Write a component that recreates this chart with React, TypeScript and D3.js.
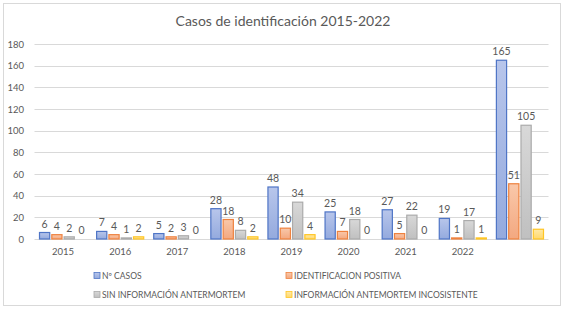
import React from "react";
import * as d3 from "d3";

const categories = ["2015", "2016", "2017", "2018", "2019", "2020", "2021", "2022", ""];
const seriesNames = [
  "Nº CASOS",
  "IDENTIFICACION POSITIVA",
  "SIN INFORMACIÓN ANTERMORTEM",
  "INFORMACIÓN ANTEMORTEM INCOSISTENTE",
];
const casos = [6, 7, 5, 28, 48, 25, 27, 19, 165];
const positiva = [4, 4, 2, 18, 10, 7, 5, 1, 51];
const sinInfo = [2, 1, 3, 8, 34, 18, 22, 17, 105];
const inconsistente = [0, 2, 0, 2, 4, 0, 0, 1, 9];
const yTicks = [0, 20, 40, 60, 80, 100, 120, 140, 160, 180];

const fills = [
  ["#b8c6eb", "#94aade"],
  ["#f9c8aa", "#f3a880"],
  ["#d8d8d8", "#c0c0c0"],
  ["#ffe9a6", "#ffd86c"],
];
const strokes = ["#4f75c6", "#ee823f", "#ababab", "#ffc524"];

const W = 567;
const H = 311;
const font = "Lato, 'Open Sans', sans-serif";
const textColor = "#595959";

export default function App() {
  const series = [casos, positiva, sinInfo, inconsistente];
  const left = 34.5;
  const right = 548.5;
  const top = 44;
  const bottom = 239;

  const x = d3
    .scaleBand<number>()
    .domain(categories.map((_, i) => i))
    .range([left, right])
    .paddingInner(0)
    .paddingOuter(0);
  const inner = d3
    .scaleBand<number>()
    .domain([0, 1, 2, 3])
    .range([5, x.bandwidth() - 5])
    .paddingInner(0.17);
  const y = d3.scaleLinear().domain([0, 180]).range([bottom, top]);

  const legendPos = [
    [94, 276],
    [286, 276],
    [94, 295],
    [286, 295],
  ];

  return (
    <svg
      width={W}
      height={H}
      style={{ position: "absolute", left: 0, top: 0, background: "#fff" }}
      fontFamily={font}
    >
      <defs>
        {fills.map((f, i) => (
          <linearGradient key={i} id={`g${i}`} x1="0" y1="0" x2="0" y2="1">
            <stop offset="0" stopColor={f[0]} />
            <stop offset="1" stopColor={f[1]} />
          </linearGradient>
        ))}
      </defs>
      <rect x={3.5} y={3.5} width={557} height={302} fill="#fff" stroke="#d9d9d9" />
      <text x={283} y={26} textAnchor="middle" fontSize={14} fill={textColor}>
        Casos de identificación 2015-2022
      </text>
      {yTicks.map((t) => (
        <g key={t}>
          <line x1={left} x2={right} y1={Math.round(y(t)) + 0.5} y2={Math.round(y(t)) + 0.5} stroke="#d9d9d9" />
          <text x={24} y={y(t) + 3.5} textAnchor="end" fontSize={9.5} fill={textColor}>
            {t}
          </text>
        </g>
      ))}
      {categories.map((c, i) => (
        <text key={i} x={x(i)! + x.bandwidth() / 2} y={255} textAnchor="middle" fontSize={9.5} fill={textColor}>
          {c}
        </text>
      ))}
      {series.map((vals, s) =>
        vals.map((v, i) => {
          const bx = x(i)! + inner(s)!;
          const by = y(v);
          const h = bottom - by;
          return (
            <g key={`${s}-${i}`}>
              {v > 0 && (
                <rect
                  x={bx}
                  y={by}
                  width={inner.bandwidth()}
                  height={h}
                  fill={`url(#g${s})`}
                  stroke={strokes[s]}
                  strokeWidth={1.2}
                />
              )}
              <text
                x={bx + inner.bandwidth() / 2}
                y={by - 5}
                textAnchor="middle"
                fontSize={10.5}
                fill={textColor}
              >
                {v}
              </text>
            </g>
          );
        })
      )}
      {seriesNames.map((n, i) => (
        <g key={n}>
          <rect
            x={legendPos[i][0]}
            y={legendPos[i][1] - 3.5}
            width={6}
            height={6}
            fill={`url(#g${i})`}
            stroke={strokes[i]}
            strokeWidth={0.8}
          />
          <text x={legendPos[i][0] + 8} y={legendPos[i][1] + 3} fontSize={8.5} fill={textColor}>
            {n}
          </text>
        </g>
      ))}
    </svg>
  );
}
